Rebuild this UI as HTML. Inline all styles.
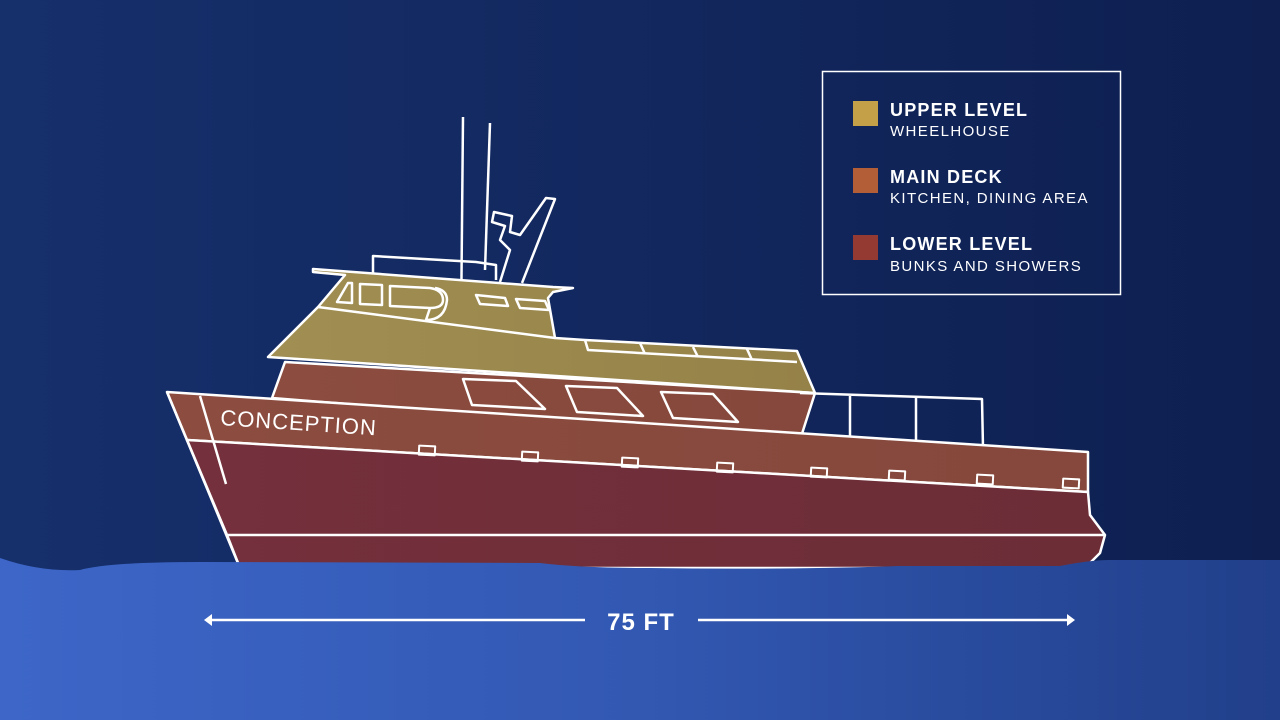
<!DOCTYPE html>
<html><head><meta charset="utf-8"><style>
html,body{margin:0;padding:0;width:1280px;height:720px;overflow:hidden;background:#112560}
svg{display:block}
text{font-family:"Liberation Sans",sans-serif;fill:#fff}
</style></head><body>
<svg width="1280" height="720" viewBox="0 0 1280 720">
<defs>
<linearGradient id="bg" x1="0" x2="1"><stop offset="0" stop-color="#16306c"/><stop offset="1" stop-color="#0e1f50"/></linearGradient>
<linearGradient id="wa" x1="0" x2="1"><stop offset="0" stop-color="#3d66c8"/><stop offset="0.5" stop-color="#3258b2"/><stop offset="1" stop-color="#213f8a"/></linearGradient>
<linearGradient id="lo" x1="0" x2="1"><stop offset="0" stop-color="#74303c"/><stop offset="1" stop-color="#6c2d37"/></linearGradient>
<linearGradient id="mid" x1="0" x2="1"><stop offset="0" stop-color="#8c4c40"/><stop offset="1" stop-color="#86483c"/></linearGradient>
<linearGradient id="up" x1="0" x2="1"><stop offset="0" stop-color="#a08e52"/><stop offset="1" stop-color="#958248"/></linearGradient>
</defs>
<rect width="1280" height="720" fill="url(#bg)"/>
<g stroke="#fff" stroke-width="2.5" stroke-linejoin="round" fill="none">
<line x1="463" y1="117" x2="461" y2="330"/>
<line x1="490" y1="123" x2="485" y2="270"/>
<path d="M500,282 L510,250 L500,240 L505,226 L492,222 L494,212 L512,216 L510,232 L520,235 L546,198 L555,199 L522,283" fill="none"/>
<path d="M373,274 L373,256 L476,262 L496,265 L496,280"/>
<path d="M268,357 L318,307 L345,275 L313,272 L313,269 L553,287 L573,288 L553,292 L548,298 L555,338 L585,340 L797,351 L815,393 Z" fill="url(#up)"/>
<line x1="318" y1="307" x2="555" y2="338"/>
<path d="M585,340 L588,350 L797,362"/>
<line x1="640" y1="343" x2="645" y2="354"/>
<line x1="693" y1="347" x2="698" y2="357"/>
<line x1="747" y1="349" x2="752" y2="360"/>
<path d="M337,302 L348,283 L352,283 L352,303 Z"/>
<path d="M360,284 L382,285 L382,305 L360,304 Z"/>
<path d="M390,286 L430,288 Q443,290 443,300 Q443,308 430,308 L390,306 Z"/>
<path d="M430,308 L426,320 Q445,320 447,300 Q447,290 435,288"/>
<path d="M476,295 L505,298 L508,306 L480,304 Z"/>
<path d="M516,299 L545,301 L549,310 L520,308 Z"/>
<path d="M285,362 L815,393 L800,440 L272,398 Z" fill="url(#mid)"/>
<path d="M463,379 L516,381 L545,409 L472,405 Z"/>
<path d="M566,386 L617,388 L643,416 L577,412 Z"/>
<path d="M661,392 L713,394 L738,422 L673,418 Z"/>
<path d="M800,393 L982,399 L983,448"/>
<line x1="850" y1="396" x2="850" y2="444"/>
<line x1="916" y1="398" x2="916" y2="446"/>
<path d="M167,392 L1088,452 L1088,492 L187,440 Z" fill="url(#mid)"/>
<path d="M187,440 L1088,492 L1090,515 L1105,535 L1100,553 L1085,568 L240,568 L227,535 Z" fill="url(#lo)"/>
<line x1="167" y1="392" x2="240" y2="568"/>
<line x1="200" y1="396" x2="226" y2="484"/>
<line x1="228" y1="535" x2="1105" y2="535"/>
<g stroke-width="2">
<rect x="419" y="446" width="16" height="9" transform="rotate(3 427 450)"/>
<rect x="522" y="452" width="16" height="9" transform="rotate(3 530 456)"/>
<rect x="622" y="458" width="16" height="9" transform="rotate(3 630 462)"/>
<rect x="717" y="463" width="16" height="9" transform="rotate(3 725 467)"/>
<rect x="811" y="468" width="16" height="9" transform="rotate(3 819 472)"/>
<rect x="889" y="471" width="16" height="9" transform="rotate(3 897 475)"/>
<rect x="977" y="475" width="16" height="9" transform="rotate(3 985 479)"/>
<rect x="1063" y="479" width="16" height="9" transform="rotate(3 1071 483)"/>
</g>
</g>
<text x="220" y="425" font-size="22" letter-spacing="1" transform="rotate(3.8 220 425)">CONCEPTION</text>
<path d="M0,558 Q40,572 80,570 Q110,562 200,562 L540,563 Q580,568 650,568 Q780,570 900,566 Q1000,566 1060,566 Q1090,560 1110,560 L1280,560 L1280,720 L0,720 Z" fill="url(#wa)"/>
<g stroke="#fff" stroke-width="2.5"><line x1="210" y1="620" x2="585" y2="620"/><line x1="698" y1="620" x2="1068" y2="620"/></g>
<polygon points="204,620 212,614 212,626" fill="#fff"/>
<polygon points="1075,620 1067,614 1067,626" fill="#fff"/>
<text x="641" y="630" font-size="24" font-weight="bold" text-anchor="middle" letter-spacing="1">75 FT</text>
<rect x="822.5" y="71.5" width="298" height="223" fill="none" stroke="#fff" stroke-width="1.5"/>
<rect x="853" y="101" width="25" height="25" fill="#c4a048"/>
<rect x="853" y="168" width="25" height="25" fill="#b35e36"/>
<rect x="853" y="235" width="25" height="25" fill="#953a32"/>
<text x="890" y="116" font-size="18" font-weight="bold" letter-spacing="1.2">UPPER LEVEL</text>
<text x="890" y="136" font-size="15" letter-spacing="1.4">WHEELHOUSE</text>
<text x="890" y="183" font-size="18" font-weight="bold" letter-spacing="1.2">MAIN DECK</text>
<text x="890" y="203" font-size="15" letter-spacing="1.4">KITCHEN, DINING AREA</text>
<text x="890" y="250" font-size="18" font-weight="bold" letter-spacing="1.2">LOWER LEVEL</text>
<text x="890" y="271" font-size="15" letter-spacing="1.4">BUNKS AND SHOWERS</text>
</svg>
</body></html>
